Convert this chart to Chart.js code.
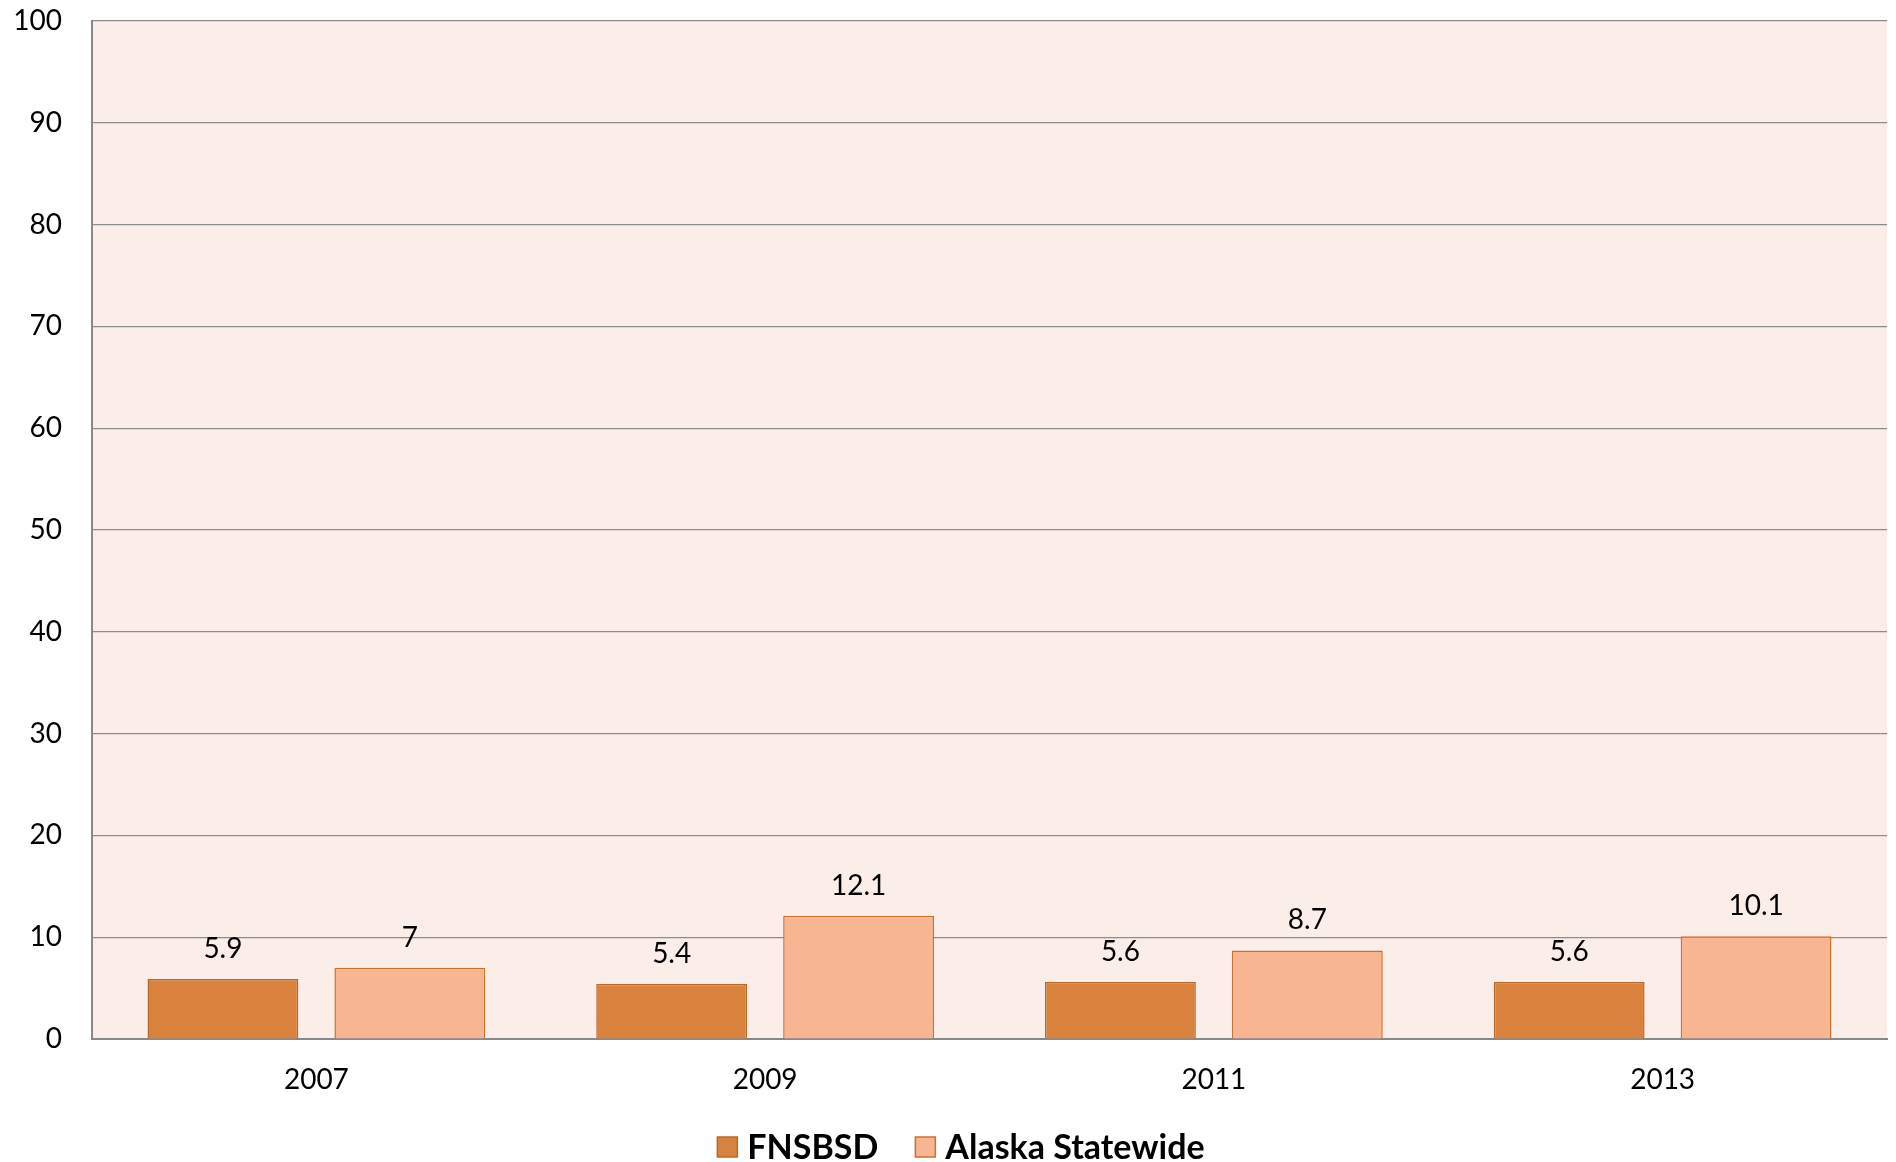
<!DOCTYPE html>
<html>
<head>
<meta charset="utf-8">
<script src="https://cdn.jsdelivr.net/npm/chart.js@4.4.1/dist/chart.umd.min.js"></script>
<style>
  html, body { margin: 0; padding: 0; background: #fff; }
  #wrap { width: 1896px; height: 1162px; position: relative; }
</style>
</head>
<body>
<div id="wrap"><canvas id="chart"></canvas></div>
<script>
const years = ["2007", "2009", "2011", "2013"];
const fnsbsd = [5.9, 5.4, 5.6, 5.6];
const alaska = [7, 12.1, 8.7, 10.1];
const yTicks = [0, 10, 20, 30, 40, 50, 60, 70, 80, 90, 100];

const FONT = "Lato, 'Open Sans', sans-serif";

// Pinkish plot background
const plotBg = {
  id: "plotBg",
  beforeDraw(chart) {
    const { ctx, chartArea: a } = chart;
    ctx.save();
    ctx.fillStyle = "#fbeee9";
    ctx.fillRect(a.left, a.top, a.right - a.left, a.bottom - a.top);
    ctx.restore();
  }
};

// Value labels above each bar
const valueLabels = {
  id: "valueLabels",
  afterDatasetsDraw(chart) {
    const ctx = chart.ctx;
    ctx.save();
    ctx.fillStyle = "#000";
    ctx.font = "28px " + FONT;
    ctx.textAlign = "center";
    ctx.textBaseline = "bottom";
    chart.data.datasets.forEach((ds, di) => {
      chart.getDatasetMeta(di).data.forEach((bar, i) => {
        ctx.fillText(String(ds.data[i]), bar.x, bar.y - 16);
      });
    });
    ctx.restore();
  }
};

// Legend drawn by hand so box/text spacing can follow the original
const bottomLegend = {
  id: "bottomLegend",
  afterDraw(chart) {
    const ctx = chart.ctx;
    const box = 20, gap = 10, spacing = 37;
    const cx = 961, cy = 1147;
    ctx.save();
    ctx.font = "bold 34px " + FONT;
    ctx.textBaseline = "middle";
    const items = chart.data.datasets.map(ds => ({ ds, w: ctx.measureText(ds.label).width }));
    const total = items.reduce((s, it) => s + box + gap + it.w, 0) + spacing * (items.length - 1);
    let x = cx - total / 2;
    items.forEach(({ ds, w }) => {
      ctx.fillStyle = ds.backgroundColor;
      ctx.fillRect(x, cy - box / 2, box, box);
      ctx.strokeStyle = ds.borderColor;
      ctx.lineWidth = 1.5;
      ctx.strokeRect(x, cy - box / 2, box, box);
      ctx.fillStyle = "#000";
      ctx.fillText(ds.label, x + box + gap, cy + 1);
      x += box + gap + w + spacing;
    });
    ctx.restore();
  }
};

new Chart(document.getElementById("chart"), {
  type: "bar",
  data: {
    labels: years,
    datasets: [
      {
        label: "FNSBSD",
        data: fnsbsd,
        backgroundColor: "#d9823d",
        borderColor: "#b8682c",
        borderWidth: 1.5,
        borderSkipped: "bottom",
        categoryPercentage: 0.833,
        barPercentage: 0.807,
      },
      {
        label: "Alaska Statewide",
        data: alaska,
        backgroundColor: "#f8b592",
        borderColor: "#c8722f",
        borderWidth: 1.5,
        borderSkipped: "bottom",
        categoryPercentage: 0.833,
        barPercentage: 0.807,
      }
    ]
  },
  plugins: [plotBg, valueLabels, bottomLegend],
  options: {
    responsive: true,
    maintainAspectRatio: false,
    animation: false,
    layout: { padding: { top: 21, right: 9, left: 0, bottom: 56 } },
    plugins: {
      tooltip: { enabled: false },
      legend: { display: false }
    },
    scales: {
      x: {
        grid: { display: false, drawTicks: false },
        border: { color: "#888", width: 2 },
        ticks: { color: "#000", font: { family: FONT, size: 28 }, padding: 24 },
        afterFit(axis) { axis.height = 67; }
      },
      y: {
        min: 0,
        max: 100,
        afterBuildTicks(axis) { axis.ticks = yTicks.map(v => ({ value: v })); },
        grid: { color: "#8c8c8c", lineWidth: 1.2, drawTicks: false },
        border: { color: "#888", width: 2 },
        ticks: { color: "#000", font: { family: FONT, size: 28 }, padding: 30 },
        afterFit(axis) {
          axis.width = 92;
          axis.paddingTop = 0;
          axis.paddingBottom = 0;
        }
      }
    }
  }
});
</script>
</body>
</html>
